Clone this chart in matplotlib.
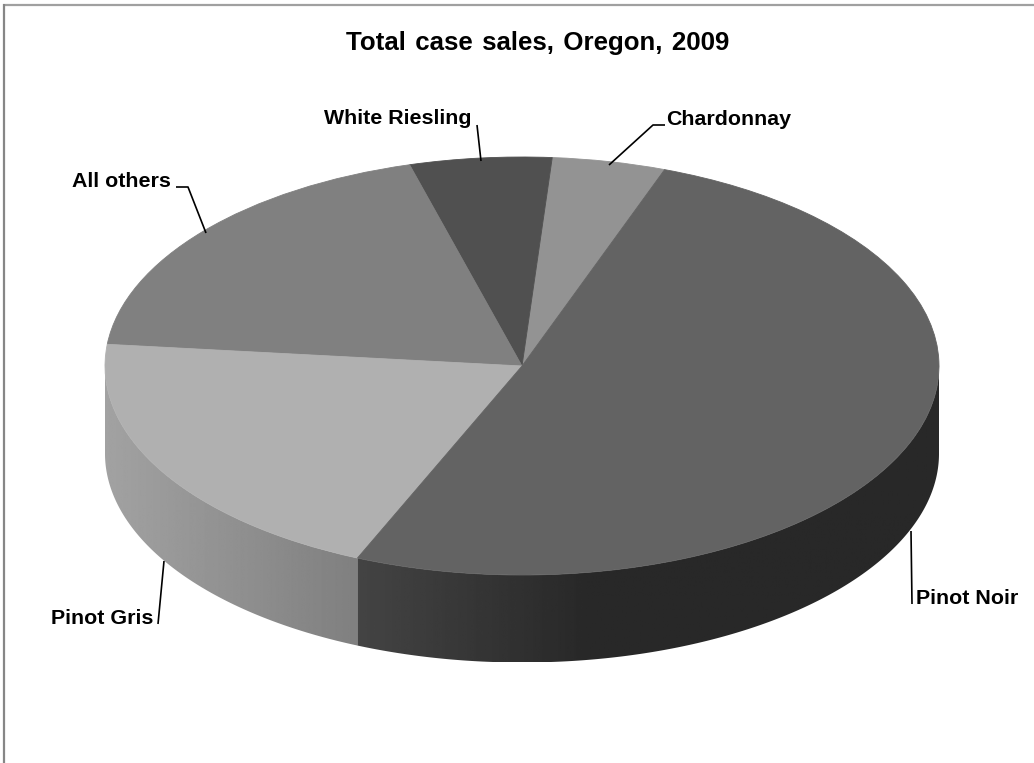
import numpy as np
import matplotlib
matplotlib.use("Agg")
import matplotlib.pyplot as plt
from matplotlib.patches import Polygon

plt.rcParams['font.family'] = ['Liberation Sans', 'DejaVu Sans']

# share of total cases
labels = ["Chardonnay", "White Riesling", "All others", "Pinot Gris", "Pinot Noir"]
shares = [4.4, 5.5, 19.0, 20.2, 50.9]
colors = ["#939393", "#505050", "#808080", "#b0b0b0", "#636363"]

# wall shading, grey level at the left end and where it stops changing
wall_grey = {"Pinot Gris": (0.635, 0.50, 1.0), "Pinot Noir": (0.267, 0.157, 0.4)}

W, H = 1034, 763
CX, CY, RX, RY = 522, 366, 417, 209
DEPTH = 87.5 / RY
START = 70


def px(x, y):
    return (x - CX) / RX, (CY - y) / RY


fig = plt.figure(figsize=(W / 100, H / 100), dpi=100)
ax = fig.add_axes([0, 0, 1, 1])

wedges, _ = ax.pie(shares, colors=colors, startangle=START, counterclock=True, radius=1,
                   wedgeprops={"linewidth": 0.6}, frame=True)
for w in wedges:
    w.set_edgecolor(w.get_facecolor())

# side wall, gradient image clipped to the wall outline of the slice
edges = START + np.cumsum([0] + shares) * 3.6
for name, a0, a1 in zip(labels, edges[:-1], edges[1:]):
    if name not in wall_grey:
        continue
    a0, a1 = max(a0, 180), min(a1, 360)
    ang = np.radians(np.linspace(a0, a1, 300))
    xs, ys = np.cos(ang), np.sin(ang)
    outline = np.vstack([np.column_stack([xs, ys]),
                         np.column_stack([xs[::-1], ys[::-1] - DEPTH])])
    g0, g1, stop = wall_grey[name]
    ramp = np.interp(np.linspace(0, 1, 256), [0, stop, 1], [g0, g1, g1])[None, :]
    im = ax.imshow(ramp, cmap="gray", vmin=0, vmax=1, aspect="auto", zorder=0.5,
                   extent=[xs.min(), xs.max(), ys.min() - DEPTH, ys.max()])
    clip = Polygon(outline, closed=True, transform=ax.transData, fc="none", ec="none")
    ax.add_patch(clip)
    im.set_clip_path(clip)

ax.set_aspect("auto")
ax.set_xlim(px(0, 0)[0], px(W, 0)[0])
ax.set_ylim(px(0, H)[1], px(0, 0)[1])
ax.set_xticks([])
ax.set_yticks([])
for s in ax.spines.values():
    s.set_visible(False)

# only the top and left of the chart border are in the picture
top = np.array([px(3, 5), px(W, 5)])
left = np.array([px(4, 4), px(4, H)])
ax.plot(top[:, 0], top[:, 1], color="#a0a0a0", lw=1.6, solid_capstyle="butt")
ax.plot(left[:, 0], left[:, 1], color="#868686", lw=1.6, solid_capstyle="butt")

# leader lines
leaders = {
    "All others": [(176, 187), (188, 187), (206, 233)],
    "White Riesling": [(477, 125), (481, 161)],
    "Chardonnay": [(665, 125), (653, 125), (609, 165)],
    "Pinot Gris": [(158, 624), (164, 561)],
    "Pinot Noir": [(911, 531), (912, 604)],
}
for name, pts in leaders.items():
    p = np.array([px(*q) for q in pts])
    ax.plot(p[:, 0], p[:, 1], color="black", lw=1.2, zorder=1, solid_capstyle="butt")

# left end and baseline of each label
label_pos = {
    "All others": (72, 187),
    "White Riesling": (324, 124),
    "Chardonnay": (666, 125),
    "Pinot Gris": (51, 624),
    "Pinot Noir": (916, 604),
}
for name, (x, y) in label_pos.items():
    tx, ty = px(x, y)
    ax.text(tx, ty, name, fontsize=15.4, fontweight="bold", ha="left", va="baseline")

# wider word gaps than a plain space, hair space added
gap = " \u200a"
tx, ty = px(538, 50)
ax.text(tx, ty, gap.join(["Total", "case", "sales,", "Oregon,", "2009"]), fontsize=18.6,
        fontweight="bold", ha="center", va="baseline")

fig.savefig("out.png", dpi=100)
